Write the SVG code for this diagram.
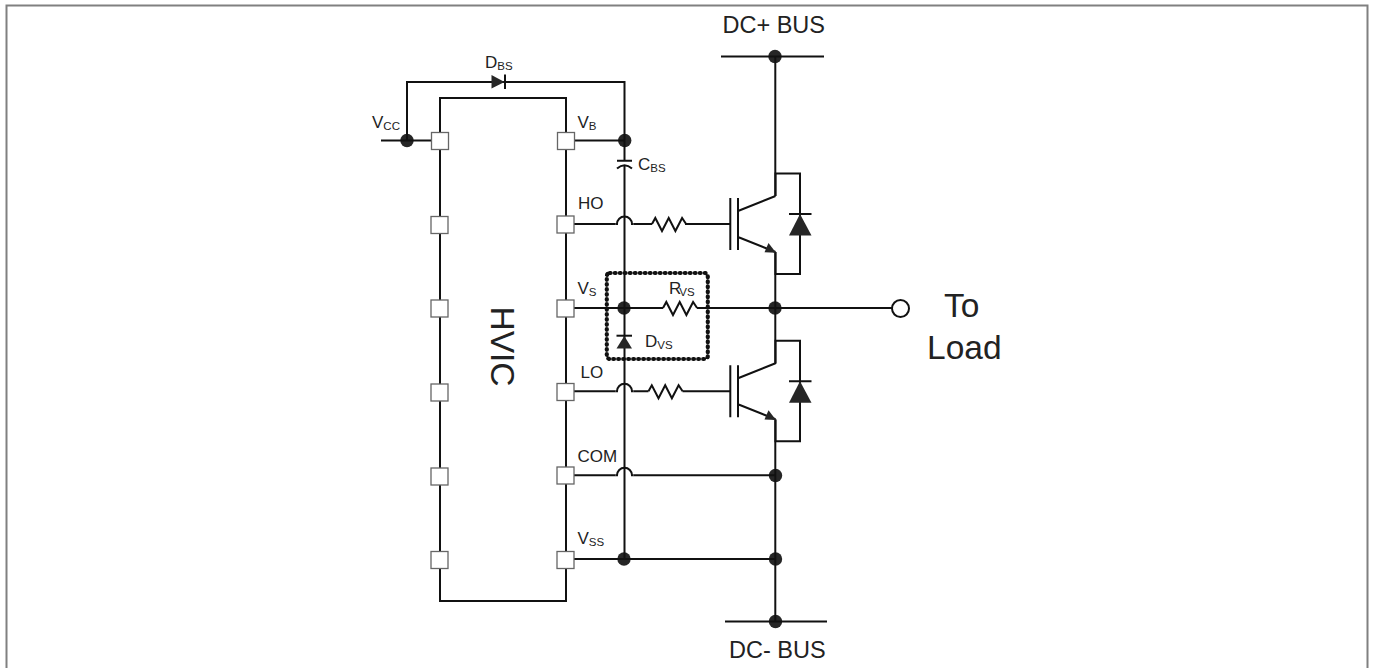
<svg xmlns="http://www.w3.org/2000/svg" width="1375" height="668" viewBox="0 0 1375 668">
<style>
text{font-family:"Liberation Sans",Arial,sans-serif;fill:#222}
.l{font-size:17px}.s{font-size:11.5px}.b{font-size:23.5px}.t{font-size:33.5px}
.w{fill:none;stroke:#111;stroke-width:2}
.d{fill:#262626}
.p{fill:#fff;stroke:#666;stroke-width:1.3}
</style>
<defs>
<path id="r" d="M0 0l3.3-6l6.7 13l6.7-13l6.7 13l6.700-13l4 6" class="w"/>
<path id="h" d="M-9 0h1.500a6.500 6.500 0 0 1 15 0h1.500" class="w"/>
<g id="igbt">
<path class="w" d="M-45 0H-1.700M-1.700-26V26M6-26V26M6-13L43.500-28M6 13L43.500 28M43.500-28V-50.500H68V50H43.500V28M57-10H79.500"/>
<path class="d" d="M36.500 19L32.500 28.300L44 28.800Z"/>
<path class="d" d="M68-10L57 11.500H79.500Z"/>
</g>
</defs>
<path d="M6.500 668V5.500H1367.500V668" fill="none" stroke="#808080" stroke-width="2"/>
<g id="dots" class="d">
<circle cx="407" cy="140.500" r="6.700"/><circle cx="624.700" cy="140.500" r="6.700"/><circle cx="624" cy="308" r="6.700"/><circle cx="775" cy="308" r="6.700"/><circle cx="775.500" cy="475.500" r="6.700"/><circle cx="624" cy="559" r="6.700"/><circle cx="775.500" cy="559" r="6.700"/><circle cx="775.500" cy="621.500" r="6.700"/><circle cx="775" cy="56.500" r="6.700"/>
</g>
<g id="connectors">
<path class="w" d="M440 141V98H566V601H440Z"/>
<path class="w" d="M381 140.500H440M407 140.500V82H624.500V160.500M566 140.500H624.500"/>
<path class="w" d="M624.500 165V559M566 559H775.500M775.300 56.500V196M775.300 252V364M775.300 420V621.500M721 56.500H824M725 621.500H827"/>
<path class="w" d="M566 308H663M697 308H892"/>
<path class="w" d="M566 224H615.500M633.500 224H652M685 224H687M566 391.300H615.500M633.500 391.300H648.500M682.500 391.300H687M566 475.300H615.500M633.500 475.300H775.500"/>
<use href="#h" x="624.500" y="224"/><use href="#h" x="624.500" y="391.300"/><use href="#h" x="624.500" y="475.300"/>
<use href="#r" x="652" y="224"/><use href="#r" x="648.500" y="391.300"/><use href="#r" x="663" y="308"/>
</g>
<g id="pins">
<rect class="p" x="431.500" y="132.500" width="17" height="17"/><rect class="p" x="431" y="216.500" width="17" height="17"/><rect class="p" x="431" y="300" width="17" height="17"/><rect class="p" x="431" y="384" width="17" height="17"/><rect class="p" x="431" y="468" width="17" height="17"/><rect class="p" x="431" y="551.500" width="17" height="17"/>
<rect class="p" x="557.500" y="132.500" width="17" height="17"/><rect class="p" x="557" y="216" width="17" height="17"/><rect class="p" x="557" y="300" width="17" height="17"/><rect class="p" x="557" y="383.500" width="17" height="17"/><rect class="p" x="557" y="467" width="17" height="17"/><rect class="p" x="557" y="551.500" width="17" height="17"/>
</g>
<g id="dbs"><path class="d" d="M491.500 75L504.500 82L491.500 88.500Z"/><path class="w" d="M505 74.500V89"/></g>
<g id="cbs"><path class="w" d="M617 160.700H632M617 168.500Q624.500 162 632 168.500"/></g>
<g id="dvs"><path class="d" d="M624.300 336L632 348.500H616.500Z"/><path class="w" d="M616.500 335.700H632"/></g>
<rect id="box" x="606.800" y="273" width="101" height="86" rx="3" fill="none" stroke="#111" stroke-width="4.200" stroke-linecap="round" stroke-dasharray="0.800 4.200"/>
<use id="q1" href="#igbt" x="732" y="224"/>
<use id="q2" href="#igbt" x="732" y="391.300"/>
<circle id="load" cx="900.500" cy="308.500" r="8.500" fill="#fff" stroke="#111" stroke-width="2"/>
<g id="labels">
<text class="l" x="372" y="128">V<tspan class="s" dy="2">CC</tspan></text>
<text class="l" x="485" y="68">D<tspan class="s" dy="2">BS</tspan></text>
<text class="l" x="577.500" y="127.500">V<tspan class="s" dy="2">B</tspan></text>
<text class="l" x="638" y="170">C<tspan class="s" dy="2">BS</tspan></text>
<text class="l" x="578" y="209">HO</text>
<text class="l" x="577.500" y="294">V<tspan class="s" dy="2">S</tspan></text>
<text class="l" x="669" y="294">R<tspan class="s" dy="2" dx="-2">VS</tspan></text>
<text class="l" x="645" y="346.500">D<tspan class="s" dy="2">VS</tspan></text>
<text class="l" x="580.500" y="378">LO</text>
<text class="l" x="577.500" y="462">COM</text>
<text class="l" x="577.500" y="544">V<tspan class="s" dy="2">SS</tspan></text>
<text class="b" x="722.500" y="33">DC+ BUS</text>
<text class="b" x="729" y="658">DC- BUS</text>
<text class="t" x="944" y="317">To</text>
<text class="t" x="927" y="359">Load</text>
<text class="t" transform="translate(491 306.500) rotate(90)">HVIC</text>
</g>
</svg>
